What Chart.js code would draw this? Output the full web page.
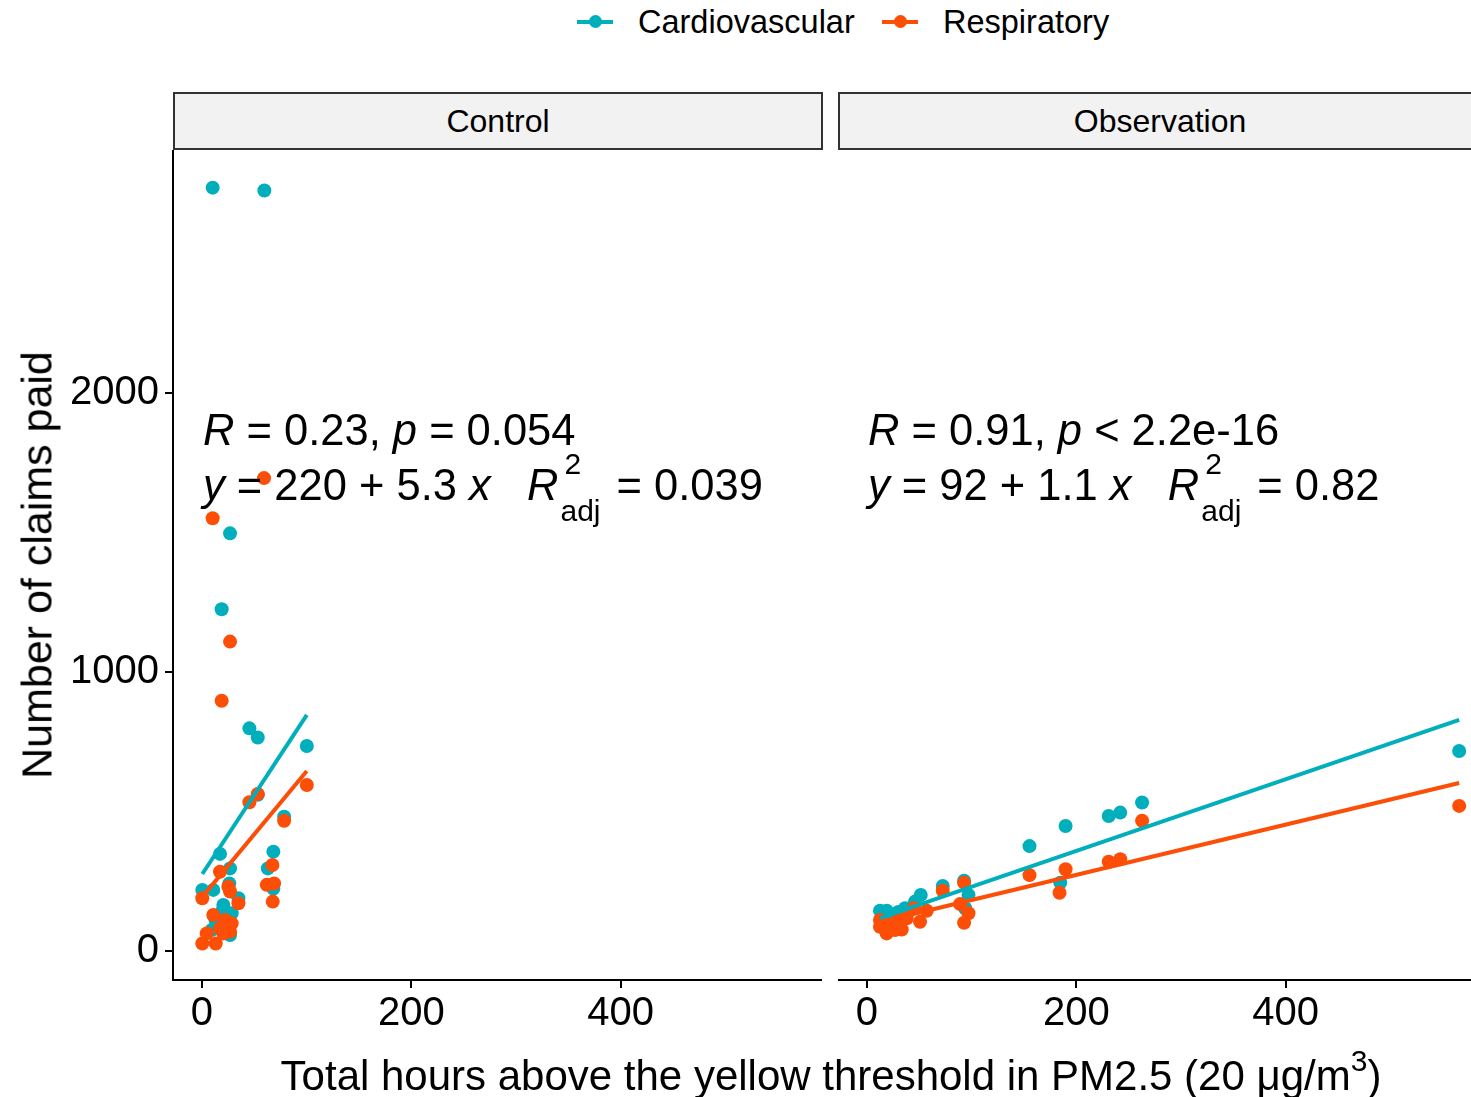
<!DOCTYPE html>
<html>
<head>
<meta charset="utf-8">
<script src="https://cdn.jsdelivr.net/npm/chart.js@4"></script>
<style>
html,body{margin:0;padding:0;width:1471px;height:1097px;overflow:hidden;background:#fff;font-family:"Liberation Sans",Arial,sans-serif;color:#000;}
.abs{position:absolute;}
.strip{position:absolute;top:92px;height:58px;box-sizing:border-box;background:#F2F2F2;border:2px solid #333;font-size:32px;line-height:54px;text-align:center;}
.ann{position:absolute;font-size:43.5px;line-height:44px;white-space:nowrap;}
.ann i{font-style:italic;}
.stack{display:inline-block;position:relative;width:58px;height:44px;vertical-align:top;}
.stack .sup{position:absolute;left:6px;top:-21px;font-size:30px;}
.stack .sub{position:absolute;left:2px;top:26px;font-size:30px;}
.leg{position:absolute;top:0;height:44px;font-size:32.5px;line-height:44px;white-space:nowrap;}
.legkey{position:absolute;top:20px;width:36px;height:4px;}
.legdot{position:absolute;top:-5px;left:12px;width:13px;height:13px;border-radius:50%;}
</style>
</head>
<body>
<script>
// ---- data ----
const seriesNames = ["Cardiovascular", "Respiratory"];
const panelNames = ["Control", "Observation"];
const yTickValues = [0, 1000, 2000];
const xTickValues = [0, 200, 400];

const controlCardio = [
  [10.2,2736],[59.6,2726],[26.8,1497],[18.8,1225],[45.3,798],[53.3,765],[100.2,735],
  [78.5,481],[68.2,356],[62.9,296],[68.2,224],[17.2,348],[26.8,296],[0.3,219],[10.8,219],
  [26.1,242],[34.8,189],[20.4,165],[28.4,135],[9.3,75],[26.8,57],[18.8,140],[13,110],[22,120],[53.3,560]
];
const controlResp = [
  [10.2,1551],[59.3,1695],[26.8,1109],[18.8,897],[100.2,595],[45.3,533],[53.3,563],
  [78.5,467],[67.3,308],[61.9,237],[68.9,242],[67.6,177],[17.2,284],[0.3,189],[25.2,230],
  [26.8,213],[34.8,171],[10.8,129],[22,111],[28.4,99],[17.2,81],[0.3,27],[13.1,27],
  [4.5,63],[20.4,63],[26.8,69]
];
const obsCardio = [
  [262.9,532],[231,484],[242,496],[189.8,448],[184.7,245],[155.3,376],[92.8,252],[97,201],
  [93.8,153],[72.4,233],[51.4,201],[45.9,177],[36.4,153],[12.4,144],[18.8,144],[25,133],
  [36.4,122],[565.9,717],[30,140],[15,130]
];
const obsResp = [
  [262.9,467],[231,320],[242,329],[189.8,293],[184,209],[155.3,272],[92.8,245],[89,168],
  [97,135],[92.8,101],[72.4,216],[45,153],[57.1,144],[50.7,105],[38,117],[12.4,111],
  [12.4,87],[18.8,63],[26.8,75],[33.2,77],[30,111],[565.9,520],[20,90]
];
// fitted regression lines (end points)
const controlCardioFit = [[0.3,276],[100.2,846]];
const controlRespFit = [[0.3,194],[100.2,645]];
const obsCardioFit = [[12.4,118],[565.9,828]];
const obsRespFit = [[12.4,104],[565.9,602]];

const colors = ["#00AFBB", "#FC4E07"];
</script>

<!-- legend -->
<div class="leg" style="left:577px;width:300px;">
  <div class="legkey" style="left:0;background:#00AFBB"><div class="legdot" style="background:#00AFBB"></div></div>
  <span style="position:absolute;left:61px;" id="lg0"></span>
</div>
<div class="leg" style="left:882px;width:300px;">
  <div class="legkey" style="left:0;background:#FC4E07"><div class="legdot" style="background:#FC4E07"></div></div>
  <span style="position:absolute;left:61px;" id="lg1"></span>
</div>

<!-- strips -->
<div class="strip" style="left:173px;width:650px;" id="st0"></div>
<div class="strip" style="left:838px;width:660px;"><span id="st1" style="position:relative;left:-8px"></span></div>

<!-- charts -->
<div class="abs" style="left:0;top:150px;width:822px;height:950px;"><canvas id="c0"></canvas></div>
<div class="abs" style="left:838px;top:150px;width:649px;height:950px;"><canvas id="c1"></canvas></div>

<!-- y axis title -->
<div class="abs" style="left:37px;top:565px;width:0;height:0;">
  <div style="position:absolute;transform:translate(-50%,-50%) rotate(-90deg);white-space:nowrap;font-size:43px;">Number of claims paid</div>
</div>

<!-- x axis title -->
<div class="abs" style="left:831px;top:1074px;width:0;height:0;">
  <div style="position:absolute;transform:translate(-50%,-50%);white-space:nowrap;font-size:42px;">Total hours above the yellow threshold in PM2.5 (20 μg/m<sup style="font-size:30px;position:relative;top:-4px">3</sup>)</div>
</div>

<!-- annotations -->
<div class="ann" style="left:203px;top:408px;"><i>R</i> = 0.23, <i>p</i> = 0.054</div>
<div class="ann" style="left:203px;top:463px;"><i>y</i> = 220 + 5.3 <i>x</i>&nbsp;&nbsp;&nbsp;<i>R</i><span class="stack"><span class="sup">2</span><span class="sub">adj</span></span>= 0.039</div>
<div class="ann" style="left:868px;top:408px;"><i>R</i> = 0.91, <i>p</i> &lt; 2.2e-16</div>
<div class="ann" style="left:868px;top:463px;"><i>y</i> = 92 + 1.1 <i>x</i>&nbsp;&nbsp;&nbsp;<i>R</i><span class="stack"><span class="sup">2</span><span class="sub">adj</span></span>= 0.82</div>

<script>
document.getElementById('lg0').textContent = seriesNames[0];
document.getElementById('lg1').textContent = seriesNames[1];
document.getElementById('st0').textContent = panelNames[0];
document.getElementById('st1').textContent = panelNames[1];

const toPts = arr => arr.map(p => ({x:p[0], y:p[1]}));
const FONT = "'Liberation Sans', Arial, sans-serif";
const zeroPad = s => { s.paddingTop = 0; s.paddingBottom = 0; s.paddingLeft = 0; s.paddingRight = 0; };

function makeChart(id, cardio, resp, cardioFit, respFit, showY) {
  return new Chart(document.getElementById(id), {
    type: 'scatter',
    data: {
      datasets: [
        {label: seriesNames[0]+' fit', data: toPts(cardioFit), showLine: true, pointRadius: 0, borderColor: colors[0], borderWidth: 4, order: 1},
        {label: seriesNames[1]+' fit', data: toPts(respFit), showLine: true, pointRadius: 0, borderColor: colors[1], borderWidth: 4, order: 0},
        {label: seriesNames[1], data: toPts(resp), pointRadius: 7, pointBackgroundColor: colors[1], pointBorderWidth: 0, order: 2},
        {label: seriesNames[0], data: toPts(cardio), pointRadius: 7, pointBackgroundColor: colors[0], pointBorderWidth: 0, order: 3}
      ]
    },
    options: {
      responsive: true, maintainAspectRatio: false, animation: false, devicePixelRatio: 1,
      layout: {padding: 0, autoPadding: false},
      plugins: {legend: {display: false}, tooltip: {enabled: false}},
      scales: {
        x: {
          type: 'linear', min: -27.7, max: 592.5,
          afterBuildTicks: s => { s.ticks = xTickValues.map(v => ({value: v})); },
          afterFit: s => { s.height = 120; zeroPad(s); },
          grid: {drawOnChartArea: false, drawTicks: true, tickLength: 8, color: '#000', lineWidth: 2},
          border: {display: true, color: '#000', width: 2},
          ticks: {font: {family: FONT, size: 40}, color: '#000', padding: 2, maxRotation: 0, callback: v => String(v)}
        },
        y: {
          type: 'linear', min: -104, max: 2871, display: showY,
          afterBuildTicks: s => { s.ticks = yTickValues.map(v => ({value: v})); },
          afterFit: s => { s.width = showY ? 173 : 0; zeroPad(s); },
          grid: {drawOnChartArea: false, drawTicks: true, tickLength: 8, color: '#000', lineWidth: 2},
          border: {display: true, color: '#000', width: 2},
          ticks: {font: {family: FONT, size: 40}, color: '#000', padding: 6, callback: v => String(v)}
        }
      }
    }
  });
}
makeChart('c0', controlCardio, controlResp, controlCardioFit, controlRespFit, true);
makeChart('c1', obsCardio, obsResp, obsCardioFit, obsRespFit, false);
</script>
</body>
</html>
